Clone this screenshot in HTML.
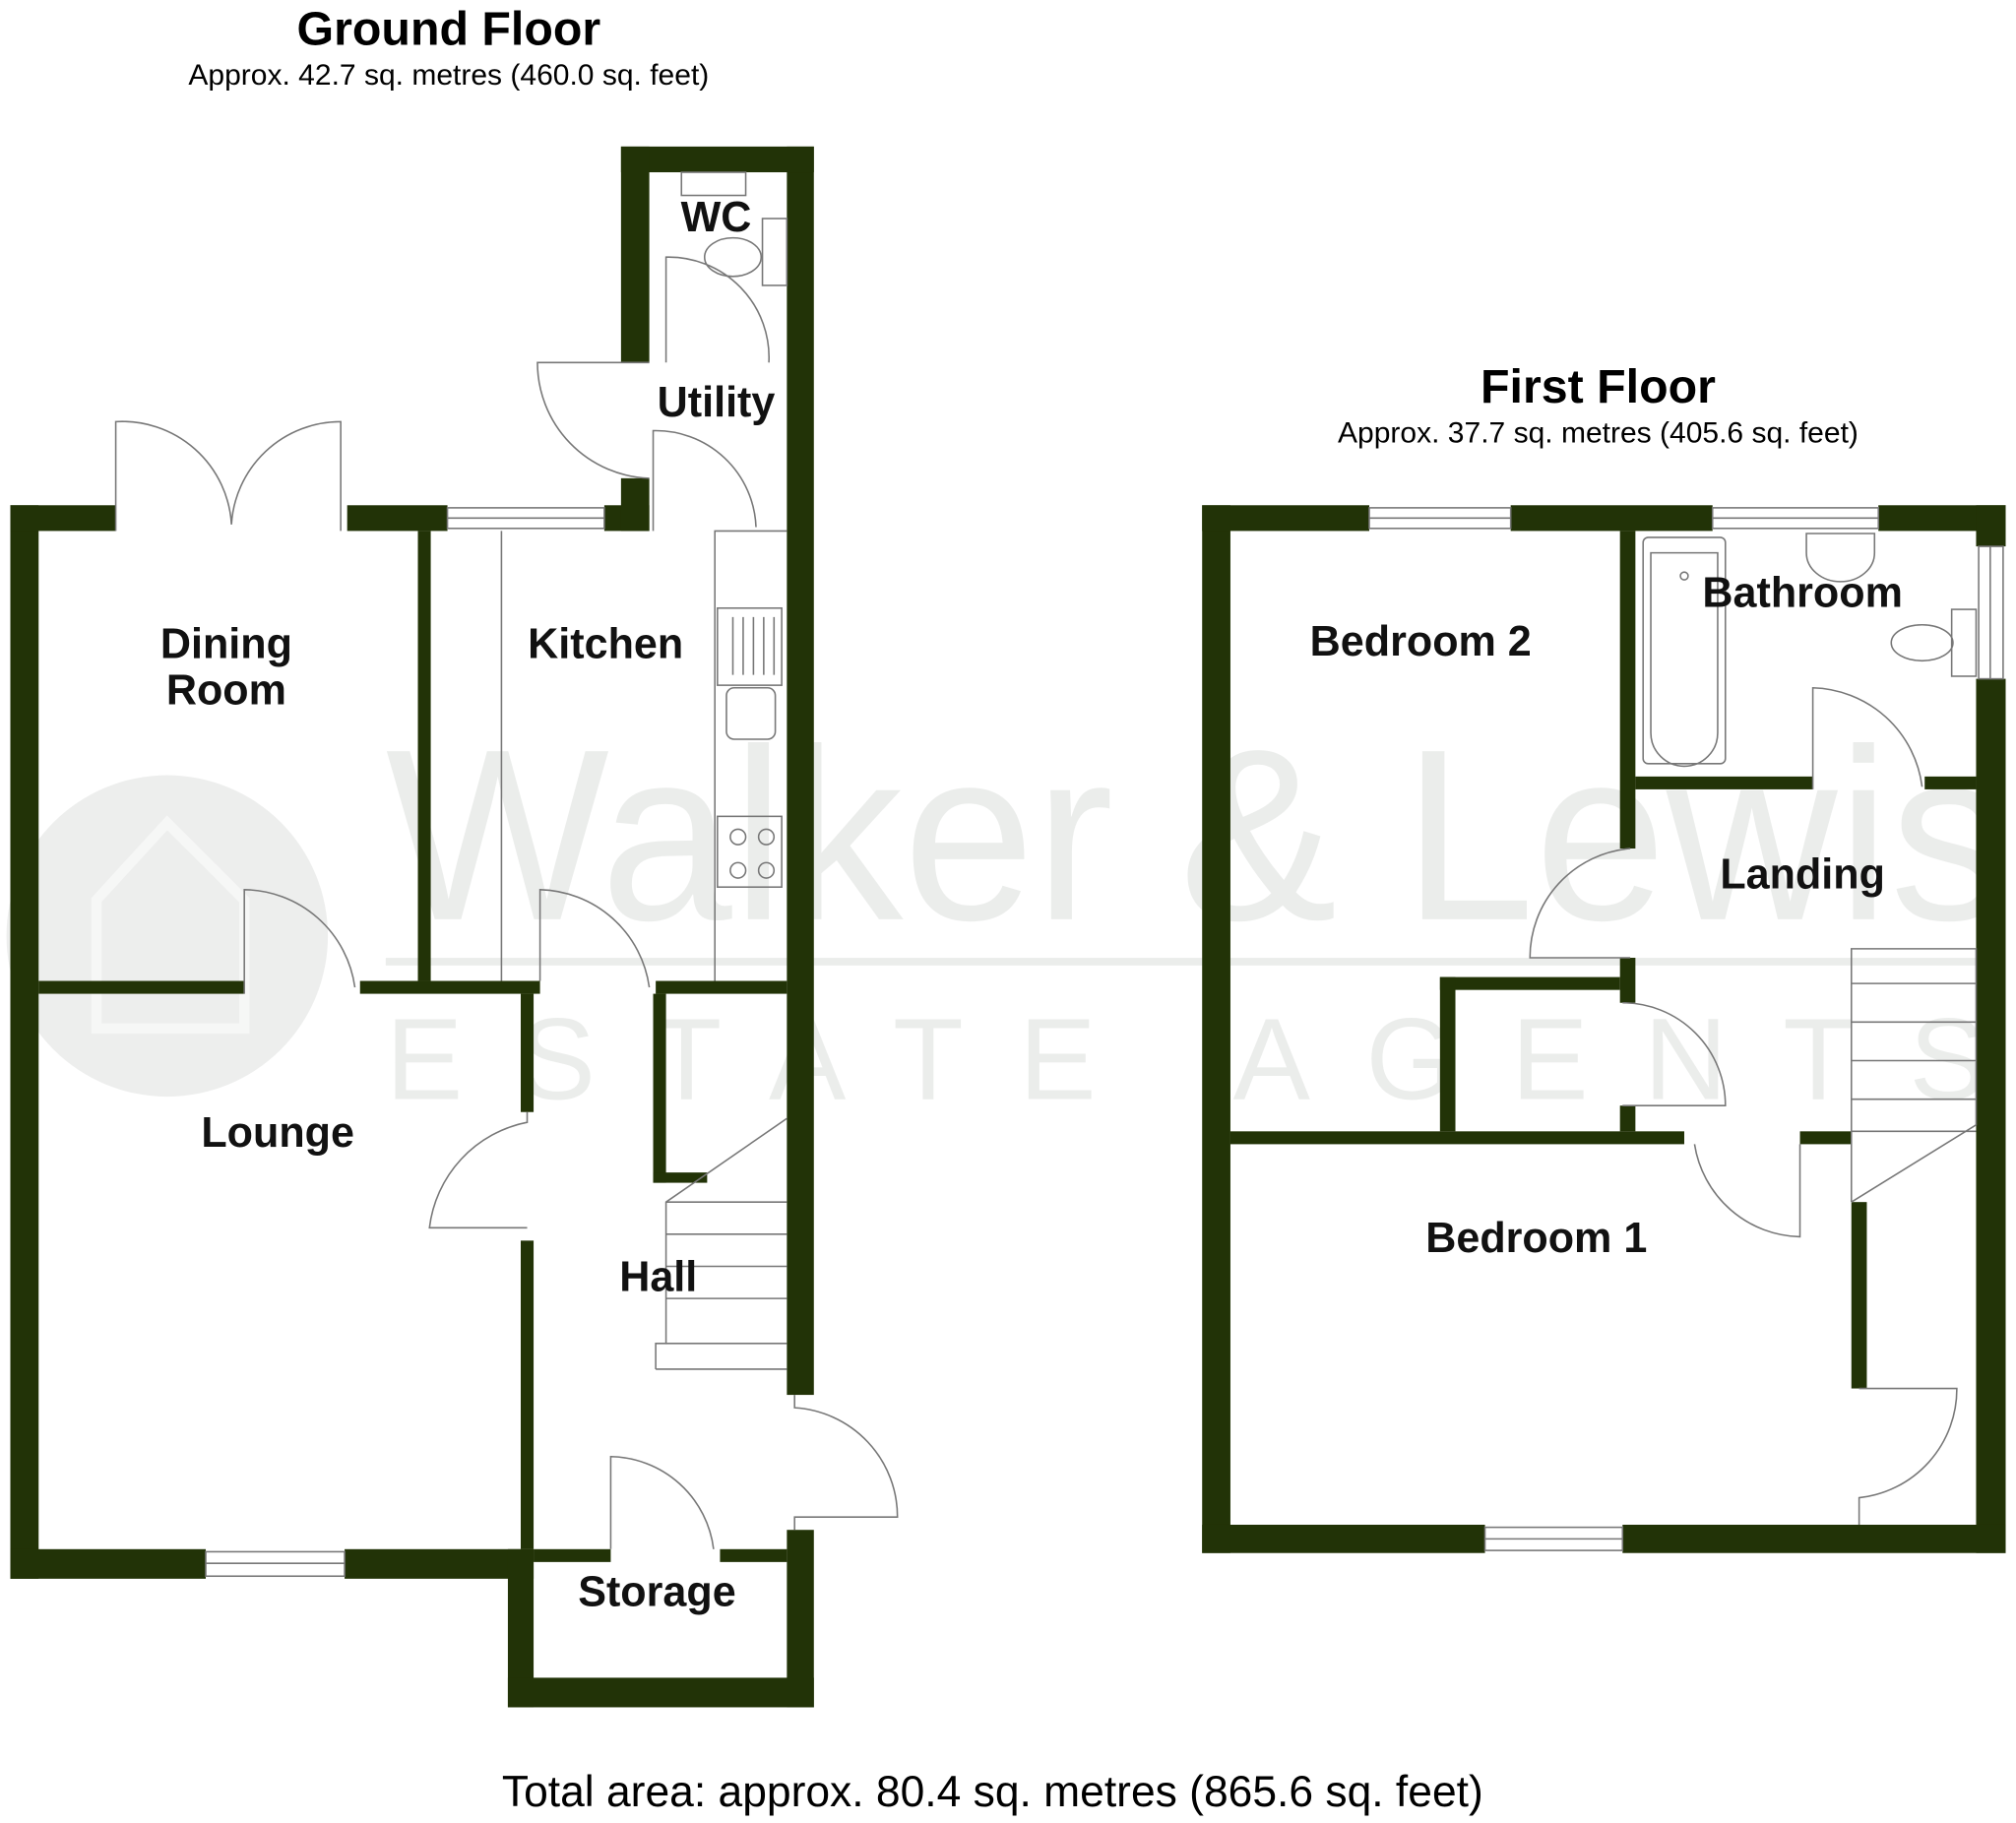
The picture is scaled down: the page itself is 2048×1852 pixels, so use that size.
<!DOCTYPE html>
<html><head><meta charset="utf-8"><style>
html,body{margin:0;padding:0;background:#fff}
svg{display:block}
text{font-family:"Liberation Sans",sans-serif}
.w{fill:#223307}
.t{font-weight:bold;font-size:33px;fill:#111}
.ln{fill:none;stroke:#777;stroke-width:1.2}
.win{fill:#fff;stroke:#777;stroke-width:1.2}
</style></head><body>
<svg width="2048" height="1852" viewBox="0 0 1568 1418" xmlns="http://www.w3.org/2000/svg">
<!-- watermark -->
<g opacity="0.1" fill="#4a5a4a">
<circle cx="130" cy="728" r="125"/>
<text x="300" y="715" font-size="190" textLength="1262" lengthAdjust="spacingAndGlyphs">Walker &amp; Lewis</text>
<rect x="300" y="745" width="1260" height="6"/>
<text x="300" y="855" font-size="90" textLength="1245" lengthAdjust="spacing">ESTATE AGENTS</text>
</g>
<path d="M75 800 V700 L130 640 L190 700 V800 Z" fill="none" stroke="#fff" stroke-width="8" opacity="0.5"/>
<!-- titles -->
<text x="349" y="35" text-anchor="middle" font-weight="bold" font-size="37">Ground Floor</text>
<text x="349" y="66" text-anchor="middle" font-size="23">Approx. 42.7 sq. metres (460.0 sq. feet)</text>
<text x="1243" y="313" text-anchor="middle" font-weight="bold" font-size="37">First Floor</text>
<text x="1243" y="344" text-anchor="middle" font-size="23">Approx. 37.7 sq. metres (405.6 sq. feet)</text>
<text x="772" y="1405" text-anchor="middle" font-size="34">Total area: approx. 80.4 sq. metres (865.6 sq. feet)</text>

<!-- GROUND FLOOR walls -->
<rect class="w" x="8" y="393" width="22" height="835"/>
<rect class="w" x="8" y="393" width="82" height="20"/>
<rect class="w" x="270" y="393" width="78" height="20"/>
<rect class="w" x="470" y="393" width="35" height="20"/>
<rect class="w" x="612" y="114" width="21" height="971"/>
<rect class="w" x="483" y="114" width="150" height="20"/>
<rect class="w" x="483" y="114" width="22" height="168"/>
<rect class="w" x="483" y="372" width="22" height="41"/>
<rect class="w" x="325" y="413" width="10" height="350"/>
<rect class="w" x="30" y="763" width="160" height="10"/>
<rect class="w" x="280" y="763" width="140" height="10"/>
<rect class="w" x="510" y="763" width="102" height="10"/>
<rect class="w" x="8" y="1205" width="152" height="23"/>
<rect class="w" x="268" y="1205" width="147" height="23"/>
<rect class="w" x="395" y="1205" width="20" height="123"/>
<rect class="w" x="395" y="1305" width="238" height="23"/>
<rect class="w" x="612" y="1190" width="21" height="138"/>
<rect class="w" x="415" y="1205" width="60" height="10"/>
<rect class="w" x="560" y="1205" width="52" height="10"/>
<rect class="w" x="405" y="773" width="10" height="92"/>
<rect class="w" x="405" y="965" width="10" height="240"/>
<rect class="w" x="508" y="773" width="10" height="147"/>
<rect class="w" x="508" y="912" width="42" height="8"/>
<!-- GF windows -->
<rect class="win" x="348" y="395" width="122" height="16"/><line class="ln" x1="348" y1="403" x2="470" y2="403"/>
<rect class="win" x="160" y="1207" width="108" height="19"/><line class="ln" x1="160" y1="1216" x2="268" y2="1216"/>
<!-- GF doors -->
<path class="ln" d="M90 413 V328 A85 85 0 0 1 180 408 A85 85 0 0 1 265 328 V413"/>
<path class="ln" d="M505 282 H418 A90 90 0 0 0 505 372"/>
<path class="ln" d="M508 413 V335 A78 78 0 0 1 588 410"/>
<path class="ln" d="M518 282 V200 A78 78 0 0 1 598 282"/>
<path class="ln" d="M190 773 V692 A88 88 0 0 1 276 768"/>
<path class="ln" d="M420 763 V692 A88 88 0 0 1 505 768"/>
<path class="ln" d="M410 865 V873 A95 95 0 0 0 334 955 H410"/>
<path class="ln" d="M475 1205 V1133 A82 82 0 0 1 555 1205"/>
<path class="ln" d="M618 1085 V1095 A85 85 0 0 1 698 1180 H618 V1190"/>
<!-- kitchen units -->
<line class="ln" x1="390" y1="413" x2="390" y2="763"/>
<path class="ln" d="M612 413 H556 V763"/>
<rect class="ln" x="558" y="473" width="50" height="60"/>
<path class="ln" d="M570 480 V525 M578 480 V525 M586 480 V525 M594 480 V525 M602 480 V525"/>
<rect class="ln" x="565" y="535" width="38" height="40" rx="6"/>
<rect class="ln" x="558" y="635" width="50" height="55"/>
<circle class="ln" cx="574" cy="651" r="6"/><circle class="ln" cx="596" cy="651" r="6"/>
<circle class="ln" cx="574" cy="677" r="6"/><circle class="ln" cx="596" cy="677" r="6"/>
<!-- WC fixtures -->
<ellipse class="ln" cx="570" cy="200" rx="22" ry="15"/>
<rect class="ln" x="593" y="170" width="19" height="52"/>
<rect class="ln" x="530" y="134" width="50" height="18"/>
<!-- GF stairs -->
<path class="ln" d="M510 1065 V1045 H518 V935 L612 870"/>
<path class="ln" d="M518 935 H612 M518 960 H612 M518 985 H612 M518 1010 H612 M518 1045 H612 M510 1065 H612"/>
<!-- GF labels -->
<text class="t" x="557" y="180" text-anchor="middle">WC</text>
<text class="t" x="557" y="324" text-anchor="middle">Utility</text>
<text class="t" x="176" y="512" text-anchor="middle">Dining</text>
<text class="t" x="176" y="548" text-anchor="middle">Room</text>
<text class="t" x="471" y="512" text-anchor="middle">Kitchen</text>
<text class="t" x="216" y="892" text-anchor="middle">Lounge</text>
<text class="t" x="512" y="1004" text-anchor="middle">Hall</text>
<text class="t" x="511" y="1249" text-anchor="middle">Storage</text>

<!-- FIRST FLOOR walls -->
<rect class="w" x="935" y="393" width="22" height="815"/>
<rect class="w" x="935" y="393" width="130" height="20"/>
<rect class="w" x="1175" y="393" width="157" height="20"/>
<rect class="w" x="1461" y="393" width="99" height="20"/>
<rect class="w" x="1537" y="393" width="23" height="32"/>
<rect class="w" x="1537" y="528" width="23" height="680"/>
<rect class="w" x="935" y="1186" width="220" height="22"/>
<rect class="w" x="1262" y="1186" width="298" height="22"/>
<rect class="w" x="1260" y="413" width="12" height="247"/>
<rect class="w" x="1272" y="604" width="138" height="10"/>
<rect class="w" x="1497" y="604" width="40" height="10"/>
<rect class="w" x="1260" y="745" width="12" height="35"/>
<rect class="w" x="1120" y="760" width="140" height="10"/>
<rect class="w" x="1120" y="760" width="12" height="120"/>
<rect class="w" x="1260" y="860" width="12" height="20"/>
<rect class="w" x="957" y="880" width="353" height="10"/>
<rect class="w" x="1400" y="880" width="40" height="10"/>
<rect class="w" x="1440" y="935" width="12" height="145"/>
<!-- FF windows -->
<rect class="win" x="1065" y="395" width="110" height="16"/><line class="ln" x1="1065" y1="403" x2="1175" y2="403"/>
<rect class="win" x="1332" y="395" width="129" height="16"/><line class="ln" x1="1332" y1="403" x2="1461" y2="403"/>
<rect class="win" x="1539" y="425" width="19" height="103"/><line class="ln" x1="1548" y1="425" x2="1548" y2="528"/>
<rect class="win" x="1155" y="1188" width="107" height="18"/><line class="ln" x1="1155" y1="1197" x2="1262" y2="1197"/>
<!-- FF doors -->
<path class="ln" d="M1410 614 V535 A88 88 0 0 1 1495 612"/>
<path class="ln" d="M1268 660 A85 85 0 0 0 1190 745 H1268"/>
<path class="ln" d="M1262 780 A80 80 0 0 1 1342 860 H1262"/>
<path class="ln" d="M1318 890 A85 85 0 0 0 1400 962 V890"/>
<path class="ln" d="M1446 1080 H1522 A85 85 0 0 1 1446 1165 V1186"/>
<!-- bathroom fixtures -->
<rect class="ln" x="1278" y="418" width="64" height="176" rx="4"/>
<path class="ln" d="M1284 430 H1336 V570 A26 26 0 0 1 1284 570 Z"/>
<circle class="ln" cx="1310" cy="448" r="3"/>
<path class="ln" d="M1405 415 H1458 V430 A26 22 0 0 1 1405 430 Z"/>
<ellipse class="ln" cx="1495" cy="500" rx="24" ry="14"/>
<rect class="ln" x="1518" y="474" width="19" height="52"/>
<!-- FF stairs -->
<path class="ln" d="M1440 935 V738 H1537 V875 L1440 935"/>
<path class="ln" d="M1440 765 H1537 M1440 795 H1537 M1440 825 H1537 M1440 855 H1537 M1440 880 H1537"/>
<!-- FF labels -->
<text class="t" x="1402" y="472" text-anchor="middle">Bathroom</text>
<text class="t" x="1105" y="510" text-anchor="middle">Bedroom 2</text>
<text class="t" x="1402" y="691" text-anchor="middle">Landing</text>
<text class="t" x="1195" y="974" text-anchor="middle">Bedroom 1</text>
</svg>
</body></html>
